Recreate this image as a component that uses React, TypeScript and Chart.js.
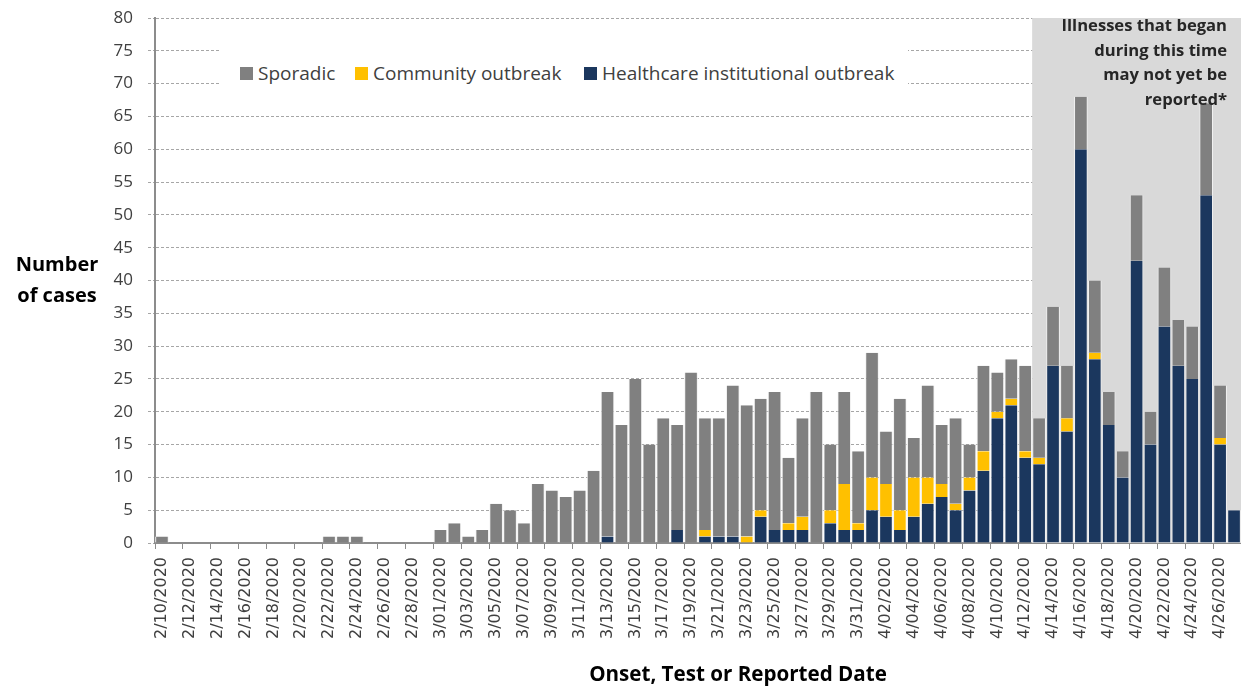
import React, { useEffect, useRef } from 'react';
import { Chart, registerables } from 'chart.js';

Chart.register(...registerables);

const dateLabels: string[] = [
  '2/10/2020', '2/11/2020', '2/12/2020', '2/13/2020', '2/14/2020', '2/15/2020', '2/16/2020', '2/17/2020', '2/18/2020', '2/19/2020',
  '2/20/2020', '2/21/2020', '2/22/2020', '2/23/2020', '2/24/2020', '2/25/2020', '2/26/2020', '2/27/2020', '2/28/2020', '2/29/2020',
  '3/01/2020', '3/02/2020', '3/03/2020', '3/04/2020', '3/05/2020', '3/06/2020', '3/07/2020', '3/08/2020', '3/09/2020', '3/10/2020',
  '3/11/2020', '3/12/2020', '3/13/2020', '3/14/2020', '3/15/2020', '3/16/2020', '3/17/2020', '3/18/2020', '3/19/2020', '3/20/2020',
  '3/21/2020', '3/22/2020', '3/23/2020', '3/24/2020', '3/25/2020', '3/26/2020', '3/27/2020', '3/28/2020', '3/29/2020', '3/30/2020',
  '3/31/2020',
  '4/01/2020', '4/02/2020', '4/03/2020', '4/04/2020', '4/05/2020', '4/06/2020', '4/07/2020', '4/08/2020', '4/09/2020', '4/10/2020',
  '4/11/2020', '4/12/2020', '4/13/2020', '4/14/2020', '4/15/2020', '4/16/2020', '4/17/2020', '4/18/2020', '4/19/2020', '4/20/2020',
  '4/21/2020', '4/22/2020', '4/23/2020', '4/24/2020', '4/25/2020', '4/26/2020', '4/27/2020',
];

const sporadic: number[] = [
  1, 0, 0, 0, 0, 0, 0, 0, 0, 0, 0, 0, 1, 1, 1, 0, 0, 0, 0, 0,
  2, 3, 1, 2, 6, 5, 3, 9, 8, 7, 8, 11, 22, 18, 25, 15, 19, 16, 26, 17, 18, 23, 20, 17, 21, 10, 15, 23, 10, 14, 11,
  19, 8, 17, 6, 14, 9, 13, 5, 13, 6, 6, 13, 6, 9, 8, 8, 11, 5, 4, 10, 5, 9, 7, 8, 14, 8, 0,
];

const community: number[] = [
  0, 0, 0, 0, 0, 0, 0, 0, 0, 0, 0, 0, 0, 0, 0, 0, 0, 0, 0, 0,
  0, 0, 0, 0, 0, 0, 0, 0, 0, 0, 0, 0, 0, 0, 0, 0, 0, 0, 0, 1, 0, 0, 1, 1, 0, 1, 2, 0, 2, 7, 1,
  5, 5, 3, 6, 4, 2, 1, 2, 3, 1, 1, 1, 1, 0, 2, 0, 1, 0, 0, 0, 0, 0, 0, 0, 0, 1, 0,
];

const healthcare: number[] = [
  0, 0, 0, 0, 0, 0, 0, 0, 0, 0, 0, 0, 0, 0, 0, 0, 0, 0, 0, 0,
  0, 0, 0, 0, 0, 0, 0, 0, 0, 0, 0, 0, 1, 0, 0, 0, 0, 2, 0, 1, 1, 1, 0, 4, 2, 2, 2, 0, 3, 2, 2,
  5, 4, 2, 4, 6, 7, 5, 8, 11, 19, 21, 13, 12, 27, 17, 60, 28, 18, 10, 43, 15, 33, 27, 25, 53, 15, 5,
];

const seriesNames = ['Sporadic', 'Community outbreak', 'Healthcare institutional outbreak'];
const seriesColors = ['#808080', '#FFC000', '#1B375E'];
const shadeStartLabel = '4/13/2020';
const yMin = 0;
const yMax = 80;
const yStep = 5;
const annotationLines = ['Illnesses that began', 'during this time', 'may not yet be', 'reported*'];

const FONT = "'Open Sans', 'Noto Sans', sans-serif";
const TICK_FONT = "'DejaVu Sans', 'Open Sans', sans-serif";

const shadePlugin = {
  id: 'shadeRegion',
  beforeDatasetsDraw(chart: any) {
    const x = chart.scales.x;
    const area = chart.chartArea;
    const idx = dateLabels.indexOf(shadeStartLabel);
    const half = (x.getPixelForValue(1) - x.getPixelForValue(0)) / 2;
    const left = x.getPixelForValue(idx) - half;
    const ctx = chart.ctx;
    ctx.save();
    ctx.fillStyle = '#D9D9D9';
    ctx.fillRect(left, area.top, area.right - left, area.bottom - area.top);
    ctx.restore();
  },
};

export default function App() {
  const canvasRef = useRef<HTMLCanvasElement | null>(null);

  useEffect(() => {
    if (!canvasRef.current) return;
    const mk = (i: number, data: number[]) => ({
      label: seriesNames[i],
      data: data.map((v) => (v ? v : null)),
      backgroundColor: seriesColors[i],
      borderColor: '#F2F2F2',
      borderWidth: { left: 1, right: 1, top: 0, bottom: 0 },
      borderSkipped: false,
      barPercentage: 0.98,
      categoryPercentage: 1,
      stack: 's',
    });
    const chart = new Chart(canvasRef.current, {
      type: 'bar',
      data: {
        labels: dateLabels,
        datasets: [mk(2, healthcare), mk(1, community), mk(0, sporadic)] as any,
      },
      options: {
        responsive: false,
        animation: false,
        devicePixelRatio: 1,
        layout: { padding: { top: 18, right: 0, bottom: 0, left: 0 } },
        plugins: {
          legend: { display: false },
          tooltip: { enabled: false },
          title: { display: false },
        },
        scales: {
          x: {
            stacked: true,
            offset: true,
            afterFit: (s: any) => {
              s.height = 145;
              s.paddingLeft = 0;
              s.paddingRight = 0;
            },
            grid: {
              display: true,
              drawOnChartArea: false,
              drawTicks: true,
              tickLength: 6,
              tickWidth: 1,
              tickColor: (c: any) => (c.index % 2 === 0 ? '#8C8C8C' : 'rgba(0,0,0,0)'),
            },
            border: { display: true, color: '#8C8C8C', width: 2 },
            ticks: {
              autoSkip: false,
              maxRotation: 90,
              minRotation: 90,
              padding: 8,
              color: '#404040',
              font: { family: TICK_FONT, size: 16 },
              callback: (_v: any, i: number) => (i % 2 === 0 ? dateLabels[i] : ''),
            },
          },
          y: {
            stacked: true,
            min: yMin,
            max: yMax,
            afterFit: (s: any) => {
              s.width = 155;
              s.paddingTop = 0;
              s.paddingBottom = 0;
            },
            grid: {
              color: '#A6A6A6',
              lineWidth: 1,
              tickLength: 7,
              tickColor: '#A6A6A6',
              tickBorderDash: [3, 2],
            },
            border: { display: true, color: '#8C8C8C', width: 2, dash: [3, 2] },
            ticks: {
              stepSize: yStep,
              padding: 15,
              color: '#404040',
              font: { family: FONT, size: 17 },
            },
          },
        },
      } as any,
      plugins: [shadePlugin],
    });
    return () => chart.destroy();
  }, []);

  const legendX = [240, 355, 584];
  const legendOrder = [0, 1, 2];

  return (
    <div style={{ position: 'absolute', left: 0, top: 0, width: 1241, height: 688, background: '#fff', overflow: 'hidden' }}>
      <canvas ref={canvasRef} width={1241} height={688} style={{ position: 'absolute', left: 0, top: 0, display: 'block' }} />
      <div
        style={{
          position: 'absolute',
          left: 220,
          top: 38,
          width: 688,
          height: 64,
          background: '#fff',
        }}
      />
      {legendOrder.map((si, k) => (
        <div key={si} style={{ position: 'absolute', left: legendX[k], top: 60, height: 26, display: 'flex', alignItems: 'center', fontFamily: FONT, fontSize: 19, color: '#404040', whiteSpace: 'nowrap' }}>
          <span style={{ display: 'inline-block', width: 13, height: 13, background: seriesColors[si], marginRight: 5 }} />
          <span>{seriesNames[si]}</span>
        </div>
      ))}
      <div
        style={{
          position: 'absolute',
          left: 0,
          top: 248,
          width: 114,
          textAlign: 'center',
          fontFamily: FONT,
          fontWeight: 700,
          fontSize: 20,
          lineHeight: '31px',
          color: '#000',
        }}
      >
        Number
        <br />
        of cases
      </div>
      <div
        style={{
          position: 'absolute',
          right: 1241 - 1227,
          top: 13,
          textAlign: 'right',
          fontFamily: FONT,
          fontWeight: 700,
          fontSize: 16.6,
          lineHeight: '24.5px',
          color: '#262626',
          whiteSpace: 'nowrap',
        }}
      >
        {annotationLines.map((l, i) => (
          <div key={i}>{l}</div>
        ))}
      </div>
      <div
        style={{
          position: 'absolute',
          left: 538,
          top: 659,
          width: 400,
          textAlign: 'center',
          fontFamily: FONT,
          fontWeight: 700,
          fontSize: 20.6,
          lineHeight: '28px',
          color: '#000',
          whiteSpace: 'nowrap',
        }}
      >
        Onset, Test or Reported Date
      </div>
    </div>
  );
}
